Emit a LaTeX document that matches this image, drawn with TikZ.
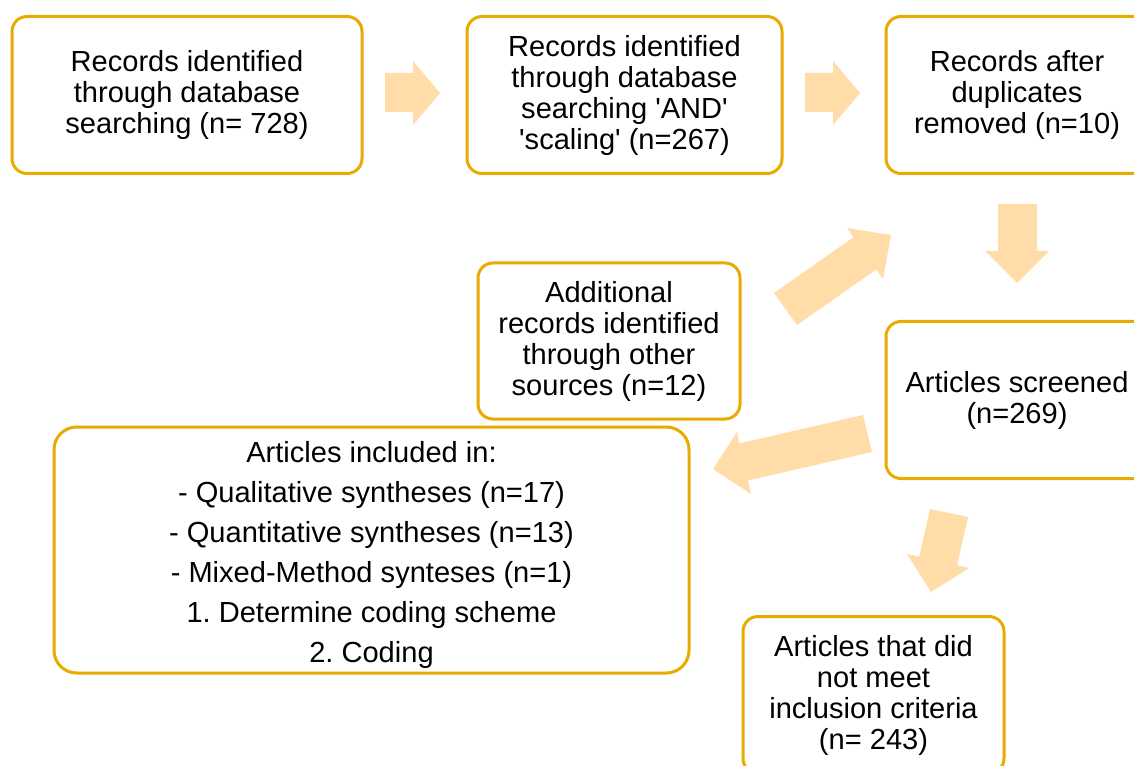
\documentclass[tikz,border=0pt]{standalone}
\usepackage{fontspec}
\setmainfont{Liberation Sans}
\definecolor{boxgold}{RGB}{232,172,0}
\definecolor{arrowpeach}{RGB}{255,220,168}
\begin{document}
\frenchspacing
\begin{tikzpicture}[x=0.75pt,y=-0.75pt,
  flowbox/.style={draw=boxgold,line width=2.25pt,rounded corners=11.25pt,fill=white,
    align=center,inner sep=0pt,font=\fontsize{21.8pt}{23.25pt}\selectfont},
  bigbox/.style={flowbox,rounded corners=17pt},
  bigtext/.style={align=center,inner sep=0pt,font=\fontsize{21.8pt}{30pt}\selectfont},
  blockarrow/.style={fill=arrowpeach,draw=none}]
\clip (0,0) rectangle (1134,766);
\fill[white] (0,0) rectangle (1134,766);

\node[flowbox,minimum width=262.5pt,minimum height=117.75pt] (b1) at (187,95)
  {Records identified\\through database\\searching (n= 728)};
\node[flowbox,minimum width=236.25pt,minimum height=117.75pt] (b2) at (624.5,95)
  {Records identified\\through database\\searching \textquotesingle AND\textquotesingle\\\textquotesingle scaling\textquotesingle{} (n=267)};
\node[flowbox,minimum width=196.5pt,minimum height=117.75pt] (b3) at (1017,95)
  {Records after\\duplicates\\removed (n=10)};
\node[flowbox,minimum width=196.5pt,minimum height=117pt] (add) at (609,341)
  {Additional\\records identified\\through other\\sources (n=12)};
\node[flowbox,minimum width=196.5pt,minimum height=117.75pt] (scr) at (1017,400)
  {Articles screened\\(n=269)};
\node[flowbox,minimum width=195.75pt,minimum height=117.75pt] (nm) at (873.5,695)
  {Articles that did\\not meet\\inclusion criteria\\(n= 243)};
\node[bigbox,minimum width=476.25pt,minimum height=184.5pt] (inc) at (371.5,550) {};
\node[bigtext] (inctext) at (371.5,555)
  {Articles included in:\\- Qualitative syntheses (n=17)\\- Quantitative syntheses (n=13)\\- Mixed-Method synteses (n=1)\\1. Determine coding scheme\\2. Coding};

% block arrows
\fill[blockarrow] (385,73) -- (413,73) -- (413,61) -- (440,93) -- (413,125) -- (413,112) -- (385,112) -- cycle;
\fill[blockarrow] (805,73) -- (833,73) -- (833,61) -- (860,93) -- (833,125) -- (833,112) -- (805,112) -- cycle;
\fill[blockarrow] (998,204) -- (1037,204) -- (1037,251) -- (1049,251) -- (1017,283) -- (985,251) -- (998,251) -- cycle;
\fill[blockarrow] (774,293) -- (853.6,237.2) -- (847,228) -- (891,235) -- (883,279) -- (876.2,269.4) -- (797,325) -- cycle;
\fill[blockarrow] (863,415) -- (739.4,443.4) -- (737,432) -- (713,469) -- (751,494) -- (748,480.4) -- (872,452) -- cycle;
\fill[blockarrow] (930,509) -- (919.2,556.7) -- (907,554) -- (931,592) -- (969,568) -- (957,565.3) -- (968,517) -- cycle;
\end{tikzpicture}
\end{document}
